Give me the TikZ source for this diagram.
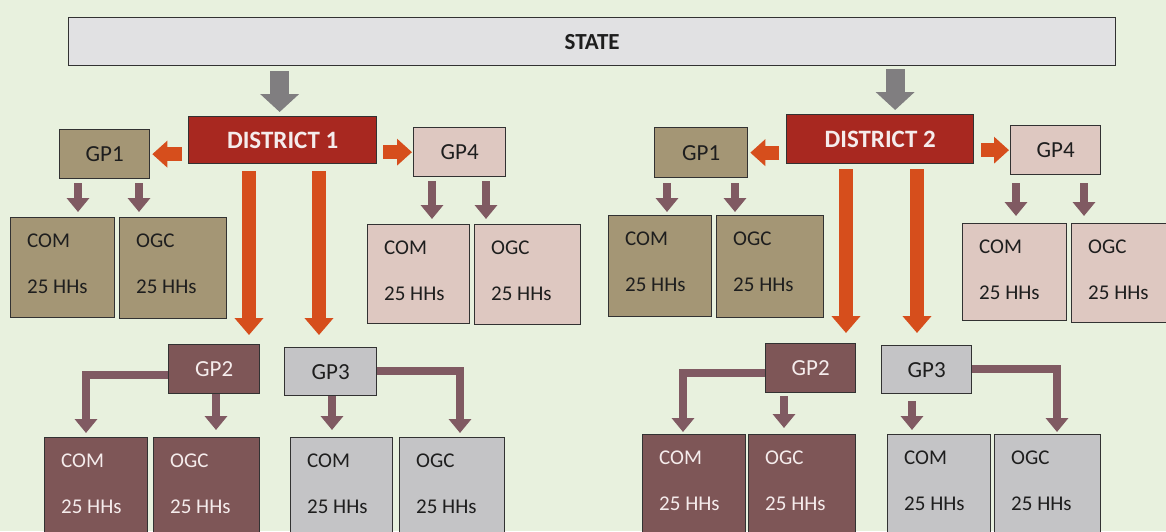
\documentclass[tikz,border=0pt]{standalone}
\usepackage{fontspec}
\setmainfont{Carlito}
\usetikzlibrary{arrows.meta,calc}
\definecolor{bgc}{RGB}{232,241,222}
\definecolor{statec}{RGB}{225,225,227}
\definecolor{distc}{RGB}{168,40,32}
\definecolor{orngc}{RGB}{214,78,28}
\definecolor{grayarc}{RGB}{128,126,128}
\definecolor{tanc}{RGB}{164,150,117}
\definecolor{pinkc}{RGB}{222,200,193}
\definecolor{mauvec}{RGB}{126,86,87}
\definecolor{lgrayc}{RGB}{196,196,198}
\definecolor{smallc}{RGB}{128,90,98}
\definecolor{bordc}{RGB}{50,50,50}
\definecolor{darktxt}{RGB}{30,30,30}
\definecolor{lighttxt}{RGB}{245,236,236}
\newcommand{\gpfont}{\fontsize{23}{26}\selectfont}
\newcommand{\leaffont}{\fontsize{21}{24}\selectfont}
\newcommand{\distfont}{\fontsize{25}{28}\selectfont\bfseries}
\newcommand{\statefont}{\fontsize{23}{26}\selectfont\bfseries}
\tikzset{
  boxbase/.style={draw=bordc, line width=1.3pt, inner sep=0pt, anchor=north west},
  txt/.style={inner sep=0pt, anchor=west, font=\leaffont},
  grayarr/.style={draw=grayarc, line width=19pt, -{Triangle[width=38pt,length=18pt]}},
  orangearr/.style={draw=orngc, line width=14pt, -{Triangle[width=28pt,length=17pt]}},
  sidearr/.style={draw=orngc, line width=14pt, -{Triangle[width=26pt,length=15pt]}},
  smallarr/.style={draw=smallc, line width=8pt, -{Triangle[width=22pt,length=14pt]}},
}
% name, x, y, w, h, fill, textcolor, label
\newcommand{\leafbox}[8]{%
  \node[boxbase, fill=#6, minimum width=#4, minimum height=#5] (#1) at (#2,#3) {};
  \node[txt, text=#7] (#1-a) at ($(#1.north west)+(17,24)$) {#8};
  \node[txt, text=#7] (#1-b) at ($(#1.north west)+(17,70)$) {25 HHs};
}
\begin{document}
\begin{tikzpicture}[x=1pt,y=-1pt]
\clip (0,0) rectangle (1166,531);
\useasboundingbox (0,0) rectangle (1166,531);
\fill[bgc] (0,0) rectangle (1166,531);

% top level
\node[boxbase, fill=statec, minimum width=1047, minimum height=48, font=\statefont, text=darktxt] (state) at (68,17) {STATE};
\node[boxbase, fill=distc, minimum width=188, minimum height=47, font=\distfont, text=lighttxt] (d1) at (188,116) {DISTRICT 1};
\node[boxbase, fill=distc, minimum width=187, minimum height=49, font=\distfont, text=lighttxt] (d2) at (786,114) {DISTRICT 2};

% GP nodes
\node[boxbase, fill=tanc, minimum width=90, minimum height=49, font=\gpfont, text=darktxt] (gp1a) at (59,129) {GP1};
\node[boxbase, fill=pinkc, minimum width=92, minimum height=49, font=\gpfont, text=darktxt] (gp4a) at (413,127) {GP4};
\node[boxbase, fill=mauvec, minimum width=91, minimum height=49, font=\gpfont, text=lighttxt] (gp2a) at (168,344) {GP2};
\node[boxbase, fill=lgrayc, minimum width=92, minimum height=48, font=\gpfont, text=darktxt] (gp3a) at (284,347) {GP3};
\node[boxbase, fill=tanc, minimum width=93, minimum height=50, font=\gpfont, text=darktxt] (gp1b) at (654,127) {GP1};
\node[boxbase, fill=pinkc, minimum width=90, minimum height=49, font=\gpfont, text=darktxt] (gp4b) at (1010,125) {GP4};
\node[boxbase, fill=mauvec, minimum width=90, minimum height=49, font=\gpfont, text=lighttxt] (gp2b) at (765,343) {GP2};
\node[boxbase, fill=lgrayc, minimum width=90, minimum height=48, font=\gpfont, text=darktxt] (gp3b) at (881,345) {GP3};

% leaf boxes
\leafbox{a1com}{10}{217}{104}{100}{tanc}{darktxt}{COM}
\leafbox{a1ogc}{119}{217}{107}{101}{tanc}{darktxt}{OGC}
\leafbox{a4com}{367}{224}{102}{99}{pinkc}{darktxt}{COM}
\leafbox{a4ogc}{474}{224}{106}{100}{pinkc}{darktxt}{OGC}
\leafbox{a2com}{44}{437}{103}{110}{mauvec}{lighttxt}{COM}
\leafbox{a2ogc}{153}{437}{106}{110}{mauvec}{lighttxt}{OGC}
\leafbox{a3com}{290}{437}{102}{110}{lgrayc}{darktxt}{COM}
\leafbox{a3ogc}{399}{437}{105}{110}{lgrayc}{darktxt}{OGC}
\leafbox{b1com}{608}{215}{103}{101}{tanc}{darktxt}{COM}
\leafbox{b1ogc}{716}{215}{107}{102}{tanc}{darktxt}{OGC}
\leafbox{b4com}{962}{223}{104}{97}{pinkc}{darktxt}{COM}
\leafbox{b4ogc}{1071}{223}{110}{99}{pinkc}{darktxt}{OGC}
\leafbox{b2com}{642}{434}{103}{110}{mauvec}{lighttxt}{COM}
\leafbox{b2ogc}{748}{434}{107}{110}{mauvec}{lighttxt}{OGC}
\leafbox{b3com}{887}{434}{103}{110}{lgrayc}{darktxt}{COM}
\leafbox{b3ogc}{994}{434}{106}{110}{lgrayc}{darktxt}{OGC}

% state -> districts
\draw[grayarr, shorten <=5pt, shorten >=4pt] ($(d1.north |- state.south)+(-3,0)$) -- ($(d1.north)+(-3,0)$);
\draw[grayarr, shorten <=3pt, shorten >=4pt] ($(d2.north |- state.south)+(15,0)$) -- ($(d2.north)+(15,0)$);

% district -> side GPs
\draw[sidearr, shorten <=6pt, shorten >=2pt] (d1.west |- gp1a.east) -- (gp1a.east);
\draw[sidearr, shorten <=6pt, shorten >=1pt] (d1.east |- gp4a.west) -- (gp4a.west);
\draw[sidearr, shorten <=7pt, shorten >=2pt] (d2.west |- gp1b.east) -- (gp1b.east);
\draw[sidearr, shorten <=7pt, shorten >=1pt] (d2.east |- gp4b.west) -- (gp4b.west);

% district -> lower GPs
\draw[orangearr, shorten <=7pt, shorten >=9pt] ($(d1.south west)+(61,0)$) -- ($(d1.south west |- gp2a.north)+(61,0)$);
\draw[orangearr, shorten <=7pt, shorten >=12pt] ($(d1.south west)+(131,0)$) -- ($(d1.south west |- gp3a.north)+(131,0)$);
\draw[orangearr, shorten <=5pt, shorten >=10pt] ($(d2.south west)+(60,0)$) -- ($(d2.south west |- gp2b.north)+(60,0)$);
\draw[orangearr, shorten <=5pt, shorten >=12pt] ($(d2.south west)+(131,0)$) -- ($(d2.south west |- gp3b.north)+(131,0)$);

% GP1 / GP4 -> leaves
\draw[smallarr, shorten <=4pt, shorten >=5pt] ($(gp1a.south west)+(19,0)$) -- ($(gp1a.south west |- a1com.north)+(19,0)$);
\draw[smallarr, shorten <=4pt, shorten >=5pt] ($(gp1a.south west)+(80,0)$) -- ($(gp1a.south west |- a1ogc.north)+(80,0)$);
\draw[smallarr, shorten <=4pt, shorten >=5pt] ($(gp4a.south west)+(19,0)$) -- ($(gp4a.south west |- a4com.north)+(19,0)$);
\draw[smallarr, shorten <=4pt, shorten >=5pt] ($(gp4a.south west)+(73,0)$) -- ($(gp4a.south west |- a4ogc.north)+(73,0)$);
\draw[smallarr, shorten <=5pt, shorten >=3pt] ($(gp1b.south west)+(13,0)$) -- ($(gp1b.south west |- b1com.north)+(13,0)$);
\draw[smallarr, shorten <=5pt, shorten >=3pt] ($(gp1b.south west)+(81,0)$) -- ($(gp1b.south west |- b1ogc.north)+(81,0)$);
\draw[smallarr, shorten <=8pt, shorten >=7pt] ($(gp4b.south west)+(6,0)$) -- ($(gp4b.south west |- b4com.north)+(6,0)$);
\draw[smallarr, shorten <=8pt, shorten >=7pt] ($(gp4b.south west)+(74,0)$) -- ($(gp4b.south west |- b4ogc.north)+(74,0)$);

% GP2 / GP3 -> leaves
\draw[smallarr, shorten >=4pt] ($(gp2a.west)+(0,6)$) -| ($(a2com.north west)+(42,0)$);
\draw[smallarr, shorten >=7pt] ($(gp2a.south west)+(48,0)$) -- ($(gp2a.south west |- a2ogc.north)+(48,0)$);
\draw[smallarr, shorten >=7pt] ($(gp3a.south west)+(48,0)$) -- ($(gp3a.south west |- a3com.north)+(48,0)$);
\draw[smallarr, shorten >=4pt] ($(gp3a.east)+(0,-1)$) -| ($(a3ogc.north west)+(61,0)$);
\draw[smallarr, shorten >=2pt] ($(gp2b.west)+(0,5)$) -| ($(b2com.north west)+(41,0)$);
\draw[smallarr, shorten <=3pt, shorten >=6pt] ($(gp2b.south west)+(19,0)$) -- ($(gp2b.south west |- b2ogc.north)+(19,0)$);
\draw[smallarr, shorten <=7pt, shorten >=4pt] ($(gp3b.south west)+(31,0)$) -- ($(gp3b.south west |- b3com.north)+(31,0)$);
\draw[smallarr, shorten >=2pt] ($(gp3b.east)+(0,-1)$) -| ($(b3ogc.north west)+(63,0)$);
\end{tikzpicture}
\end{document}
